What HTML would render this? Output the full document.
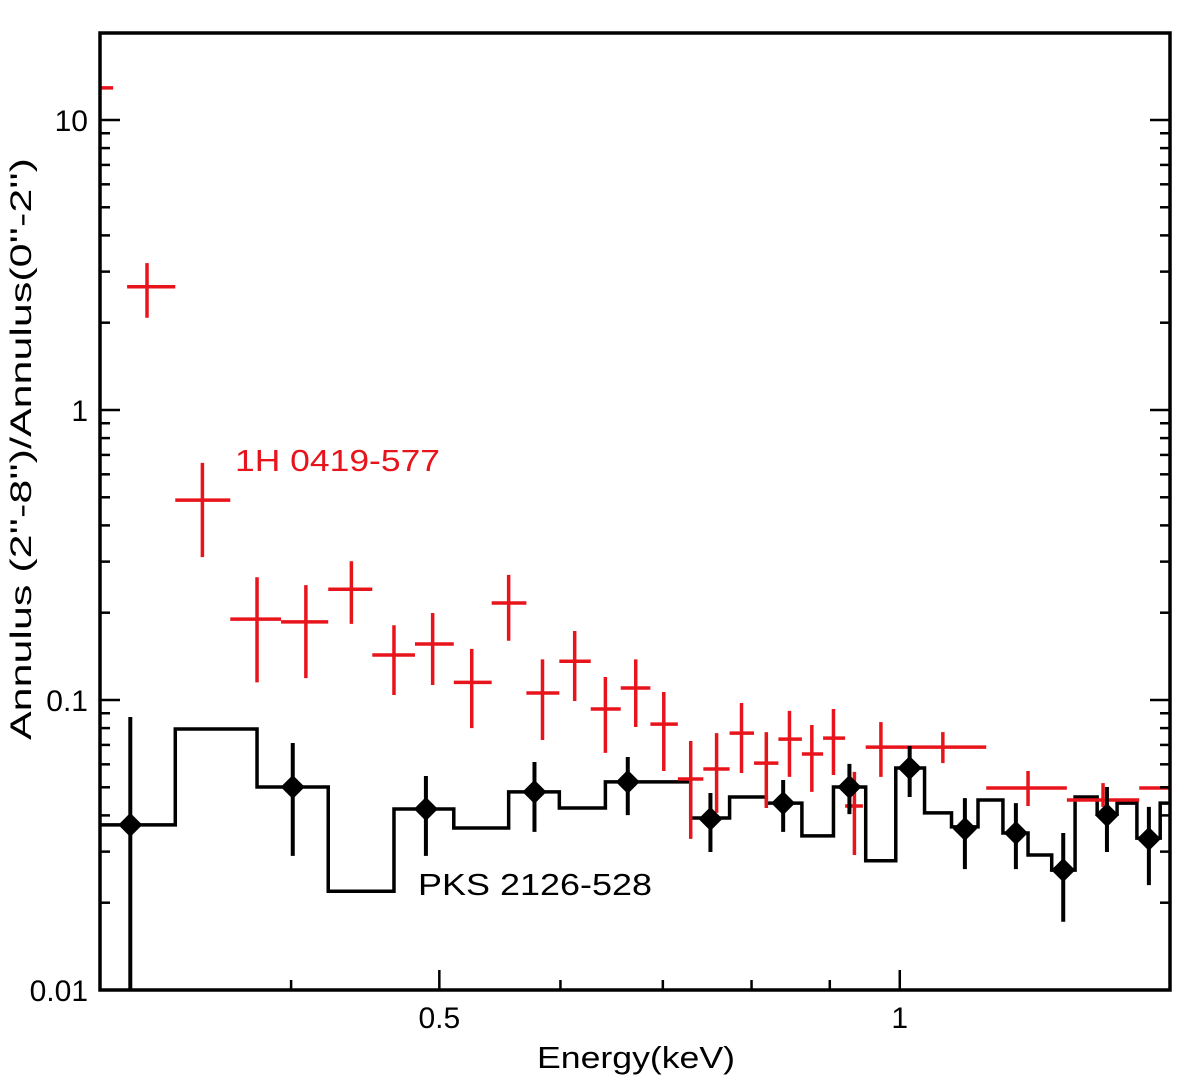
<!DOCTYPE html>
<html><head><meta charset="utf-8"><style>
html,body{margin:0;padding:0;background:#fff;}
svg{display:block;font-family:"Liberation Sans",Arial,sans-serif;}
</style></head><body>
<svg id="chart" width="1200" height="1091" viewBox="0 0 1200 1091" xmlns="http://www.w3.org/2000/svg">
<rect x="0" y="0" width="1200" height="1091" fill="#fff"/>
<g id="marks"></g>
<g id="axes"></g>
<text x="235" y="471" font-size="31" fill="#e8141c" textLength="205" lengthAdjust="spacingAndGlyphs">1H 0419-577</text>
<text x="418" y="895" font-size="31" fill="#000" textLength="234" lengthAdjust="spacingAndGlyphs">PKS 2126-528</text>
<text x="537" y="1068" font-size="31" textLength="198" lengthAdjust="spacingAndGlyphs">Energy(keV)</text>
<text transform="translate(31,740) rotate(-90)" font-size="30" textLength="582" lengthAdjust="spacingAndGlyphs">Annulus (2''-8'')/Annulus(0''-2'')</text>
</svg>
<script>
// red series 1H 0419-577
const redE   = [0.298,0.322,0.350,0.380,0.409,0.438,0.467,0.495,0.525,0.555,0.584,0.613,0.642,0.672,0.701,0.730,0.759,0.788,0.818,0.847,0.876,0.905,0.934,0.972,1.067,1.213,1.358,1.55];
const redElo = [0.29,0.3125,0.336,0.365,0.394,0.423,0.452,0.482,0.511,0.541,0.570,0.599,0.628,0.657,0.687,0.716,0.744,0.774,0.803,0.833,0.863,0.891,0.921,0.950,1.008,1.139,1.286,1.434];
const redEhi = [0.306,0.336,0.365,0.394,0.423,0.452,0.482,0.511,0.541,0.570,0.599,0.628,0.657,0.687,0.716,0.744,0.774,0.803,0.833,0.863,0.891,0.921,0.946,1.008,1.139,1.286,1.434,1.67];
const redV   = [12.9,2.66,0.489,0.190,0.186,0.241,0.143,0.156,0.115,0.216,0.1057,0.136,0.0931,0.110,0.0826,0.0534,0.0578,0.0769,0.0606,0.0733,0.0651,0.0739,0.0431,0.0688,0.0688,0.0497,0.0452,0.0497];
const redVlo = [12.9,2.08,0.311,0.115,0.119,0.183,0.104,0.1126,0.080,0.160,0.0728,0.0992,0.0657,0.0807,0.0569,0.0332,0.0408,0.0560,0.0424,0.0543,0.0482,0.0551,0.0292,0.0543,0.0606,0.0431,0.0428,0.0497];
const redVhi = [12.9,3.21,0.657,0.265,0.249,0.301,0.181,0.1995,0.150,0.270,0.138,0.173,0.120,0.138,0.1066,0.0722,0.0769,0.0976,0.0775,0.0917,0.0820,0.0931,0.0565,0.0839,0.0775,0.0569,0.0517,0.0497];
// black series PKS 2126-528
const blkE   = [0.314,0.401,0.490,0.577,0.664,0.752,0.839,0.927,1.015,1.103,1.191,1.279,1.366,1.455];
const blkV   = [0.0371,0.0501,0.0421,0.0482,0.0522,0.0389,0.0441,0.0501,0.0583,0.0359,0.0348,0.0259,0.0401,0.0332];
const blkVlo = [0.0095,0.0290,0.0290,0.0351,0.0401,0.0299,0.0351,0.0404,0.0463,0.0261,0.0261,0.0172,0.0299,0.0230];
const blkVhi = [0.0874,0.0711,0.0547,0.0611,0.0636,0.0478,0.0530,0.0602,0.0694,0.0459,0.0441,0.0348,0.0501,0.0428];
// model histogram
const histEdges  = [0.30,0.336,0.380,0.423,0.467,0.511,0.555,0.599,0.642,0.730,0.774,0.818,0.863,0.905,0.950,0.994,1.038,1.081,1.125,1.168,1.213,1.257,1.302,1.346,1.387,1.429,1.480,1.502];
const histLevels = [0.0371,0.0794,0.0501,0.0219,0.0421,0.0362,0.0482,0.0424,0.0522,0.0392,0.0463,0.0441,0.0340,0.0501,0.0279,0.0583,0.0408,0.0365,0.0452,0.0348,0.0292,0.0259,0.0463,0.0404,0.0441,0.0334,0.0441];
// ticks
const xTickMajor = [0.5,1];
const xTickMajorLabels = ["0.5","1"];
const xTickMinor = [0.3,0.4,0.6,0.7,0.8,0.9];
const yDecades = [0.01,0.1,1,10];
const yDecadeLabels = ["0.01","0.1","1","10"];

const L=100,R=1170,T=33,B=990;
const xMin=0.3,xMax=1.502,yMin=0.01,yMax=19.95;
function sx(e){return L+(Math.log10(e)-Math.log10(xMin))/(Math.log10(xMax)-Math.log10(xMin))*(R-L);}
function sy(v){return B-(Math.log10(v)-Math.log10(yMin))/(Math.log10(yMax)-Math.log10(yMin))*(B-T);}
const NS="http://www.w3.org/2000/svg";
const marks=document.getElementById('marks'), axes=document.getElementById('axes');
function mk(tag,attrs,parent){const el=document.createElementNS(NS,tag);for(const k in attrs)el.setAttribute(k,attrs[k]);parent.appendChild(el);return el;}
const clip=mk('clipPath',{id:'pc'},marks);mk('rect',{x:L,y:T,width:R-L,height:B-T},clip);
const g=mk('g',{'clip-path':'url(#pc)'},marks);

// histogram
let d='M'+sx(histEdges[0])+','+sy(histLevels[0]);
for(let i=0;i<histLevels.length;i++){
  d+=' L'+sx(histEdges[i])+','+sy(histLevels[i])+' L'+sx(histEdges[i+1])+','+sy(histLevels[i]);
}
const hp=mk('path',{d:d,fill:'none',stroke:'#000','stroke-width':3.5},g);



// red crosses
for(let i=0;i<redE.length;i++){
  const grp=mk('g',{stroke:'#e8141c','stroke-width':3.5},g);
  
  
  const y=sy(redV[i]);
  mk('line',{x1:sx(redElo[i]),x2:sx(redEhi[i]),y1:y,y2:y},grp);
  if(redVhi[i]!==redVlo[i]) mk('line',{x1:sx(redE[i]),x2:sx(redE[i]),y1:sy(redVhi[i]),y2:sy(redVlo[i])},grp);
}
// black points
for(let i=0;i<blkE.length;i++){
  const grp=mk('g',{},g);
  
  
  const x=sx(blkE[i]),y=sy(blkV[i]);
  mk('line',{x1:x,x2:x,y1:sy(blkVhi[i]),y2:sy(blkVlo[i]),stroke:'#000','stroke-width':4},grp);
  mk('polygon',{points:(x-12)+','+y+' '+x+','+(y-12)+' '+(x+12)+','+y+' '+x+','+(y+12),fill:'#000'},grp);
}

// frame
const fr=mk('rect',{x:L,y:T,width:R-L,height:B-T,fill:'none',stroke:'#000','stroke-width':3.5},axes);


// x ticks
for(let i=0;i<xTickMajor.length;i++){
  const x=sx(xTickMajor[i]);
  const t=mk('line',{x1:x,x2:x,y1:B,y2:B-20,stroke:'#000','stroke-width':2.5},axes);
  
  
  const lb=mk('text',{x:x,y:B+38,'font-size':30,'text-anchor':'middle'},axes);
  lb.textContent=xTickMajorLabels[i];
  
  
}
for(const e of xTickMinor){
  if(e<=xMin) continue;
  const x=sx(e);
  const t=mk('line',{x1:x,x2:x,y1:B,y2:B-10,stroke:'#000','stroke-width':2.5},axes);
  
  
}
// y ticks
for(let i=0;i<yDecades.length;i++){
  const dv=yDecades[i];
  for(let m=1;m<=9;m++){
    const v=dv*m; if(v<yMin||v>yMax) continue;
    const y=sy(v), len=(m===1)?20:10;
    const t1=mk('line',{x1:L,x2:L+len,y1:y,y2:y,stroke:'#000','stroke-width':2.5},axes);
    
    
    const t2=mk('line',{x1:R,x2:R-len,y1:y,y2:y,stroke:'#000','stroke-width':2.5},axes);
    
    
  }
  const lb=mk('text',{x:L-12,y:sy(dv)+11,'font-size':30,'text-anchor':'end'},axes);
  lb.textContent=yDecadeLabels[i];
  
  
}
</script>
</body></html>
